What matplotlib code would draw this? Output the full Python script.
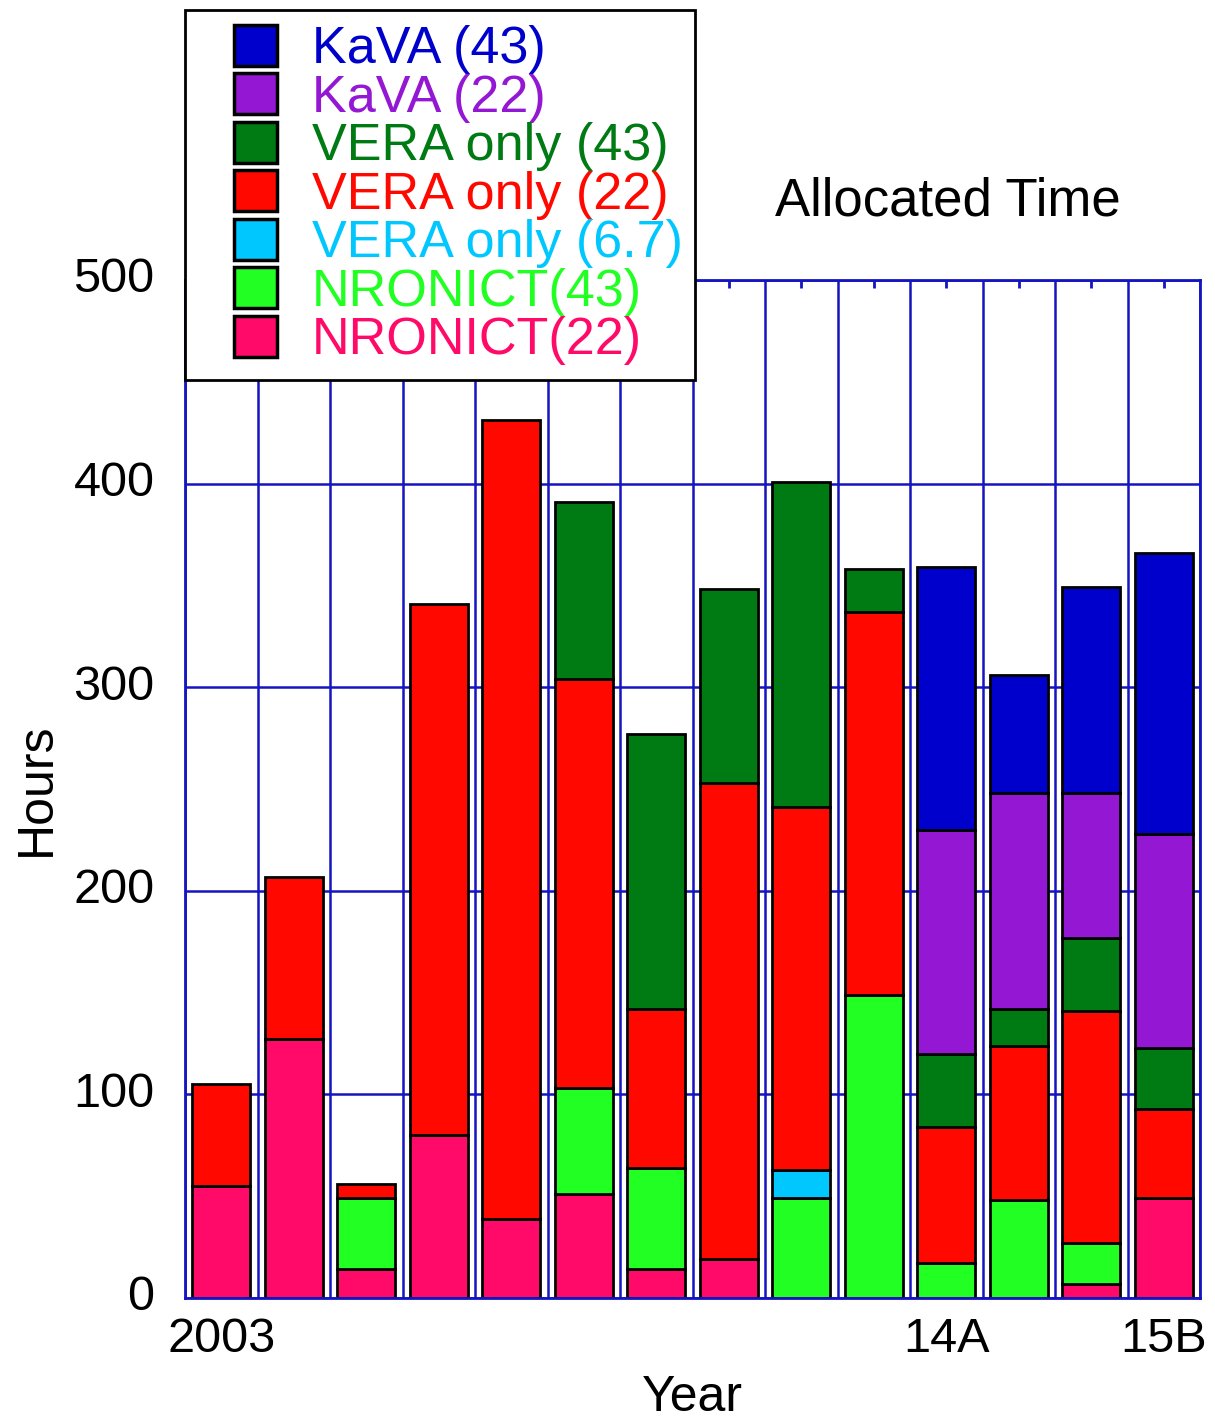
import numpy as np
import matplotlib
matplotlib.use("Agg")
import matplotlib.pyplot as plt
from matplotlib.patches import Rectangle
from matplotlib.transforms import ScaledTranslation

plt.rcParams['font.family'] = ['Liberation Sans', 'DejaVu Sans']

# ---- data ----
semesters = ["2003", "s2", "s3", "s4", "s5", "s6", "s7", "s8", "s9", "s10",
             "14A", "14B", "15A", "15B"]
tick_labels = ["2003", "", "", "", "", "", "", "", "", "", "14A", "", "", "15B"]

nronict_22 = [55, 127, 14, 80, 39, 51, 14, 19, 0, 0, 0, 0, 7, 49]
nronict_43 = [0, 0, 35, 0, 0, 52, 50, 0, 49, 149, 17, 48, 20, 0]
vera_67 = [0, 0, 0, 0, 0, 0, 0, 0, 14, 0, 0, 0, 0, 0]
vera_22 = [50, 80, 7, 261, 392, 201, 78, 234, 178, 188, 67, 76, 114, 44]
vera_43 = [0, 0, 0, 0, 0, 87, 135, 95, 160, 21, 36, 18, 36, 30]
kava_22 = [0, 0, 0, 0, 0, 0, 0, 0, 0, 0, 110, 106, 71, 105]
kava_43 = [0, 0, 0, 0, 0, 0, 0, 0, 0, 0, 129, 58, 101, 138]

series = [nronict_22, nronict_43, vera_67, vera_22, vera_43, kava_22, kava_43]
names = ["NRONICT(22)", "NRONICT(43)", "VERA only (6.7)", "VERA only (22)",
         "VERA only (43)", "KaVA (22)", "KaVA (43)"]
colors = ['#FF0A68', '#22FF22', '#00C8FF', '#FF0800', '#007A12', '#9417D4', '#0000CC']
axis_blue = '#1414C0'

W, H = 1215, 1425
fig = plt.figure(figsize=(W / 100, H / 100), dpi=100)
ax = fig.add_axes([185 / W, 1 - 1298 / H, 1015 / W, 1018 / H])

x = np.arange(len(semesters))
bottom = np.zeros(len(x))
handles = []
for name, vals, col in zip(names, series, colors):
    v = np.asarray(vals, dtype=float)
    m = v > 0
    bc = ax.bar(x[m], v[m], width=0.8, bottom=bottom[m], color=col,
                edgecolor='black', linewidth=2, label=name, zorder=2)
    handles.append(bc)
    bottom += v

ax.set_xlim(-0.5, len(x) - 0.5)
ax.set_ylim(0, 500)
ax.set_xticks(x)
ax.set_xticklabels(tick_labels)
ax.set_xticks(np.arange(-0.5, len(x), 1), minor=True)
ax.set_yticks(range(0, 501, 100))
ax.grid(which='minor', axis='x', color=axis_blue, lw=1.8)
ax.grid(which='major', axis='y', color=axis_blue, lw=1.8)
ax.set_axisbelow(True)
ax.tick_params(axis='x', which='major', direction='in', top=True, bottom=True,
               length=6, width=2, color=axis_blue, labelsize=35, pad=14)
ax.tick_params(axis='x', which='minor', length=0)
ax.tick_params(axis='y', length=0, labelsize=35, pad=22)
for s in ax.spines.values():
    s.set_color(axis_blue)
    s.set_linewidth(2)

up = ScaledTranslation(0, 5 / 100, fig.dpi_scale_trans)
for lab in ax.get_yticklabels():
    lab.set_transform(lab.get_transform() + up)

ax.set_ylabel("Hours", fontsize=36, labelpad=10)
ax.set_xlabel("Year", fontsize=36, labelpad=9)
ax.text(0.752, (1298 - 215) / 1018, "Allocated Time", transform=ax.transAxes,
        ha='center', va='baseline', fontsize=38)

# legend frame
frame = Rectangle((185 / W, 1 - 380 / H), 510 / W, 370 / H,
                  transform=fig.transFigure, facecolor='white',
                  edgecolor='black', linewidth=2, zorder=3)
fig.add_artist(frame)

leg = fig.legend(handles[::-1], names[::-1], loc='upper left',
                 bbox_to_anchor=(234 / W, 1 - 25 / H),
                 bbox_transform=fig.transFigure, frameon=False, fontsize=37.5,
                 handlelength=0.83, handleheight=0.83, handletextpad=0.67,
                 labelspacing=-0.02, borderpad=0, borderaxespad=0,
                 labelcolor=colors[::-1])
leg.set_zorder(5)
for h in leg.legend_handles:
    h.set_linewidth(2.5)

fig.savefig("out.png", dpi=100)
